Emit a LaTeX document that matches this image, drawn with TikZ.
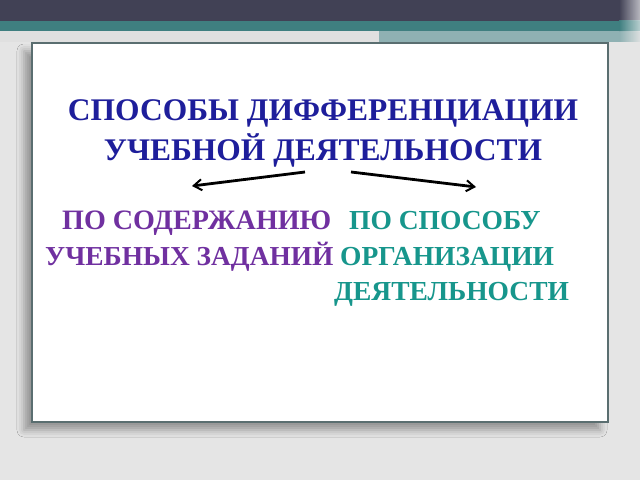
\documentclass[tikz,border=0pt]{standalone}
\usepackage{fontspec}
\setmainfont{Liberation Serif}
\usetikzlibrary{arrows.meta,shadows.blur}
\definecolor{bg}{RGB}{229,229,229}
\definecolor{barDark}{RGB}{65,65,85}
\definecolor{barTeal}{RGB}{63,127,128}
\definecolor{barLight}{RGB}{143,177,179}
\definecolor{bandGray}{RGB}{224,224,224}
\definecolor{titleBlue}{RGB}{30,30,155}
\definecolor{leftPurple}{RGB}{112,48,160}
\definecolor{rightTeal}{RGB}{23,150,140}
\definecolor{panelEdge}{RGB}{90,110,112}
\begin{document}
\begin{tikzpicture}[x=1bp,y=-1bp,
  titletext/.style={font=\fontsize{31.6}{38}\selectfont\bfseries, text=titleBlue, inner sep=0pt, anchor=base},
  lefttext/.style={font=\fontsize{27.5}{32}\selectfont\bfseries, text=leftPurple, inner sep=0pt, anchor=base west},
  righttext/.style={font=\fontsize{27.6}{32}\selectfont\bfseries, text=rightTeal, inner sep=0pt, anchor=base west},
  branch/.style={draw=black, line width=2.8bp, -{Straight Barb[length=8bp,width=11bp,line width=2bp]}}]
\useasboundingbox (0,0) rectangle (640,480);
\fill[bg] (0,0) rectangle (640,480);
% top bars
\fill[barDark] (0,0) rectangle (640,21);
\fill[barTeal] (0,21) rectangle (640,31.5);
\fill[bandGray] (0,31.5) rectangle (379,42);
\fill[barLight] (379,31.5) rectangle (640,42);
\shade[left color=barDark, right color=barDark!30!white, opacity=0.9] (619,0) rectangle (640,21);
\shade[left color=barTeal, right color=barTeal!30!white, opacity=0.9] (619,21) rectangle (640,31.5);
\shade[left color=barLight, right color=bg, opacity=0.9] (619,31.5) rectangle (640,42);
% panel
\path[fill=white, draw=panelEdge, line width=1.2bp,
  blur shadow={shadow xshift=-8bp, shadow yshift=-8bp, shadow blur radius=7bp, shadow opacity=35}]
  (32,43) rectangle (608,422);
% title
\node[titletext] (t1) at (323,120.7) {СПОСОБЫ ДИФФЕРЕНЦИАЦИИ};
\node[titletext] (t2) at (323,160.7) {УЧЕБНОЙ ДЕЯТЕЛЬНОСТИ};
% left branch
\node[lefttext, font=\fontsize{28.2}{32}\selectfont\bfseries] (l1) at (62,230) {ПО СОДЕРЖАНИЮ};
\node[lefttext] (l2) at (45,265) {УЧЕБНЫХ ЗАДАНИЙ};
% right branch
\node[righttext] (r1) at (349,230) {ПО СПОСОБУ};
\node[righttext] (r2) at (340,265) {ОРГАНИЗАЦИИ};
\node[righttext] (r3) at (334,300) {ДЕЯТЕЛЬНОСТИ};
% arrows
\coordinate (as) at (305,172);
\coordinate (ae) at (192,186);
\coordinate (bs) at (351,172);
\coordinate (be) at (476,187);
\draw[branch] (as) -- (ae);
\draw[branch] (bs) -- (be);
\end{tikzpicture}
\end{document}
